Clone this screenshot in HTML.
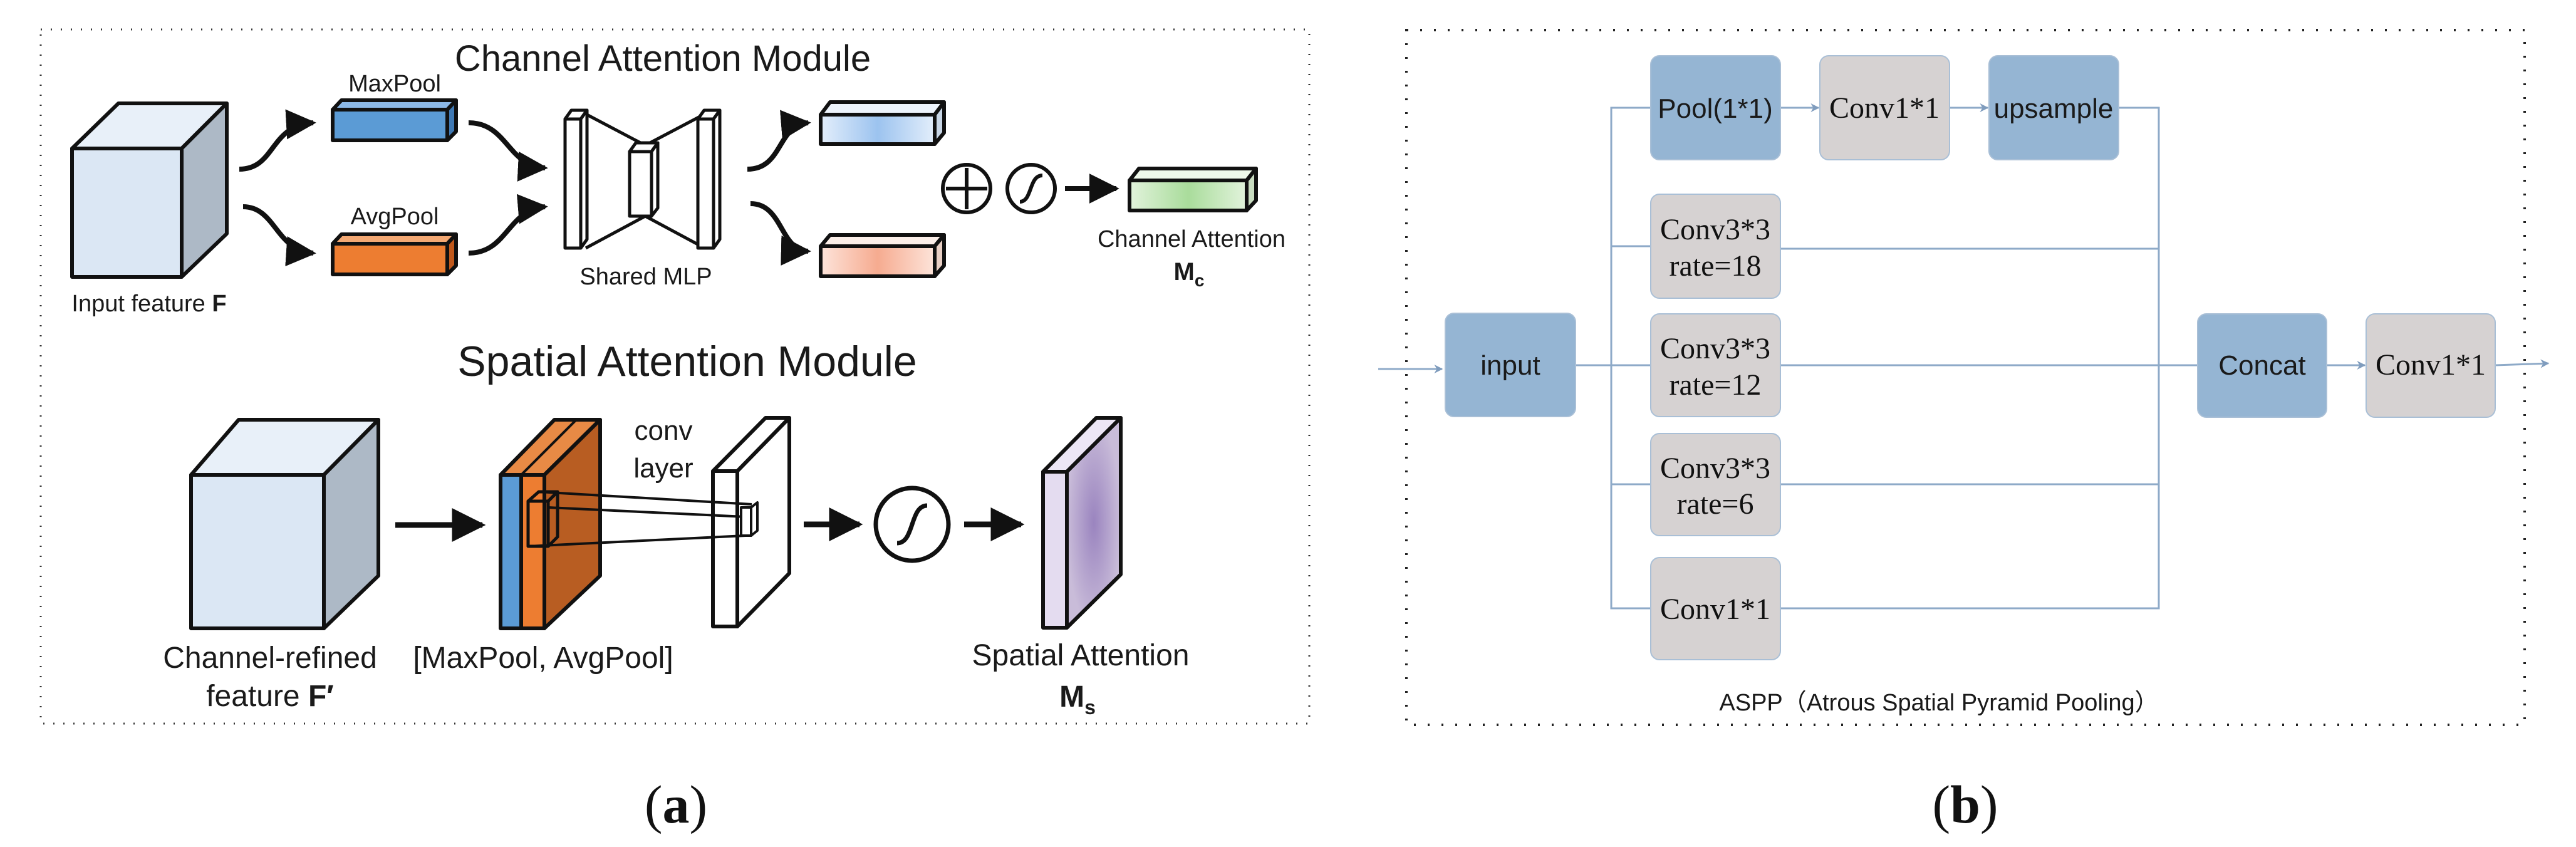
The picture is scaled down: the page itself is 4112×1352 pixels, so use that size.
<!DOCTYPE html>
<html><head><meta charset="utf-8"><style>
html,body{margin:0;padding:0;background:#fff;}
svg{display:block;}
.s{font-family:"Liberation Sans","DejaVu Sans",sans-serif;fill:#1a1a1a;}
.r{font-family:"Liberation Serif",serif;fill:#111;}
</style></head><body>
<svg width="4112" height="1352" viewBox="0 0 4112 1352" xmlns="http://www.w3.org/2000/svg">
<defs>
<marker id="ah" viewBox="0 0 10 10" refX="9" refY="5" markerWidth="6" markerHeight="6" orient="auto"><path d="M0,0 L10,5 L0,10 z" fill="#111"/></marker>
<marker id="bh" viewBox="0 0 10 10" refX="9" refY="5" markerWidth="14" markerHeight="14" markerUnits="userSpaceOnUse" orient="auto"><path d="M0,0 L10,5 L0,10 L3,5 z" fill="#7f9cbd"/></marker>
<linearGradient id="gb" x1="0" x2="1"><stop offset="0" stop-color="#e3eefb"/><stop offset=".5" stop-color="#9cc3ef"/><stop offset="1" stop-color="#e3eefb"/></linearGradient>
<linearGradient id="go" x1="0" x2="1"><stop offset="0" stop-color="#fde4da"/><stop offset=".5" stop-color="#f6ab90"/><stop offset="1" stop-color="#fde4da"/></linearGradient>
<linearGradient id="gg" x1="0" x2="1"><stop offset="0" stop-color="#e2f3dc"/><stop offset=".5" stop-color="#a9dc9b"/><stop offset="1" stop-color="#e2f3dc"/></linearGradient>
<radialGradient id="gp"><stop offset="0" stop-color="#9a84bf"/><stop offset="1" stop-color="#c9bcd9"/></radialGradient>
</defs>

<!-- Panel a border -->
<rect x="65" y="47" width="2025" height="1108" fill="none" stroke="#333" stroke-width="3" stroke-dasharray="2,14"/>
<!-- Panel b border -->
<rect x="2245" y="48" width="1785" height="1109" fill="none" stroke="#222" stroke-width="4" stroke-dasharray="3,19"/>

<!-- ===== Panel a ===== -->
<g stroke="#111" stroke-width="6" stroke-linejoin="round">
<polygon points="115,237 189,165 362,165 290,237" fill="#e8f0f9"/>
<polygon points="290,237 362,165 362,373 290,442" fill="#adb9c6"/>
<rect x="115" y="237" width="175" height="205" fill="#dbe7f4"/>
<polygon points="531,175 545,160 728,160 714,175" fill="#8cb8e6"/>
<polygon points="714,175 728,160 728,210 714,224" fill="#3f79b4"/>
<rect x="531" y="175" width="183" height="49" fill="#5b9bd5"/>
<polygon points="531,389 545,374 728,374 714,389" fill="#f3a873"/>
<polygon points="714,389 728,374 728,424 714,438" fill="#c0581b"/>
<rect x="531" y="389" width="183" height="49" fill="#ed7d31"/>
<!-- result bars -->
<polygon points="1310,183 1325,163 1507,163 1492,183" fill="#edf3fb"/>
<polygon points="1492,183 1507,163 1507,212 1492,230" fill="#c8d6e6"/>
<rect x="1310" y="183" width="182" height="47" fill="url(#gb)"/>
<polygon points="1310,393 1325,375 1507,375 1492,393" fill="#fbeee8"/>
<polygon points="1492,393 1507,375 1507,424 1492,441" fill="#e8cfc4"/>
<rect x="1310" y="393" width="182" height="48" fill="url(#go)"/>
<polygon points="1803,288 1818,269 2005,269 1990,288" fill="#eef8ea"/>
<polygon points="1990,288 2005,269 2005,320 1990,336" fill="#c8dcc0"/>
<rect x="1803" y="288" width="187" height="48" fill="url(#gg)"/>
</g>
<!-- shared MLP -->
<g stroke="#111" stroke-width="5" fill="#fff" stroke-linejoin="round">
<line x1="935" y1="182" x2="1030" y2="232"/><line x1="935" y1="396" x2="1030" y2="345"/>
<line x1="1125" y1="182" x2="1030" y2="232"/><line x1="1125" y1="396" x2="1030" y2="345"/>
<polygon points="902,190 912,176 937,176 927,190"/><polygon points="927,190 937,176 937,382 927,396"/><rect x="902" y="190" width="25" height="206"/>
<polygon points="1005,242 1015,228 1050,228 1040,242"/><polygon points="1040,242 1050,228 1050,332 1040,345"/><rect x="1005" y="242" width="35" height="103"/>
<polygon points="1114,190 1124,176 1149,176 1139,190"/><polygon points="1139,190 1149,176 1149,382 1139,396"/><rect x="1114" y="190" width="25" height="206"/>
</g>
<!-- curved arrows top -->
<g stroke="#111" stroke-width="8" fill="none" marker-end="url(#ah)">
<path d="M382,270 C440,270 430,200 500,196"/>
<path d="M388,330 C440,330 440,400 500,404"/>
<path d="M748,196 C810,196 810,265 870,268"/>
<path d="M748,404 C810,404 810,335 870,330"/>
<path d="M1193,270 C1250,270 1240,200 1290,196"/>
<path d="M1198,325 C1250,325 1245,400 1290,401"/>
<path d="M1700,301 L1782,301"/>
</g>
<circle cx="1543" cy="301" r="38" fill="#fff" stroke="#111" stroke-width="6"/>
<path d="M1543,268 V334 M1510,301 H1576" stroke="#111" stroke-width="6"/>
<circle cx="1646" cy="301" r="38" fill="#fff" stroke="#111" stroke-width="6"/>
<path d="M1628,322 C1648,322 1642,280 1664,280" stroke="#111" stroke-width="6" fill="none"/>
<!-- text top -->
<text class="s" x="1058" y="113" font-size="58" text-anchor="middle">Channel Attention Module</text>
<text class="s" x="630" y="146" font-size="38" text-anchor="middle">MaxPool</text>
<text class="s" x="630" y="358" font-size="38" text-anchor="middle">AvgPool</text>
<text class="s" x="1031" y="454" font-size="38" text-anchor="middle">Shared MLP</text>
<text class="s" x="238" y="497" font-size="38" text-anchor="middle">Input feature <tspan font-weight="bold">F</tspan></text>
<text class="s" x="1902" y="394" font-size="38" text-anchor="middle">Channel Attention</text>
<text class="s" x="1898" y="447" font-size="40" font-weight="bold" text-anchor="middle">M<tspan font-size="28" dy="10">c</tspan></text>
<text class="s" x="1097" y="600" font-size="68" text-anchor="middle">Spatial Attention Module</text>

<!-- bottom -->
<g stroke="#111" stroke-width="6" stroke-linejoin="round">
<polygon points="305,758 381,670 604,670 517,758" fill="#e8f0f9"/>
<polygon points="517,758 604,670 604,919 517,1003" fill="#adb9c6"/>
<rect x="305" y="758" width="212" height="245" fill="#dbe7f4"/>
<polygon points="799,758 885,670 958,670 869,758" fill="#e88a45"/>
<polygon points="869,758 958,670 958,919 869,1003" fill="#b85d22"/>
<rect x="799" y="758" width="33" height="245" fill="#5b9bd5"/>
<rect x="832" y="758" width="37" height="245" fill="#ed7d31"/>
<line x1="832" y1="758" x2="920" y2="670" stroke-width="4"/>
<polygon points="843,800 860,785 890,785 875,800" fill="none" stroke-width="5"/>
<rect x="843" y="800" width="32" height="72" fill="none" stroke-width="5"/>
<polygon points="875,800 890,785 890,857 875,872" fill="none" stroke-width="5"/>
<polygon points="1138,752 1222,667 1260,667 1177,752" fill="#fff"/>
<polygon points="1177,752 1260,667 1260,915 1177,1000" fill="#fff"/>
<rect x="1138" y="752" width="39" height="248" fill="#fff"/>
<line x1="860" y1="785" x2="1200" y2="805" stroke-width="4"/>
<line x1="875" y1="810" x2="1190" y2="825" stroke-width="4"/>
<line x1="843" y1="872" x2="1190" y2="855" stroke-width="4"/>
<rect x="1183" y="810" width="16" height="45" fill="#fff" stroke-width="4"/>
<polygon points="1199,810 1209,802 1209,847 1199,855" fill="#fff" stroke-width="4"/>
<polygon points="1665,753 1750,667 1789,667 1703,753" fill="#ece6f5"/>
<polygon points="1703,753 1789,667 1789,917 1703,1002" fill="url(#gp)"/>
<rect x="1665" y="753" width="38" height="249" fill="#e4dcf0"/>
</g>
<g stroke="#111" stroke-width="9" fill="none" marker-end="url(#ah)">
<line x1="631" y1="838" x2="770" y2="838"/>
<line x1="1283" y1="837" x2="1372" y2="837"/>
<line x1="1539" y1="837" x2="1630" y2="837"/>
</g>
<circle cx="1456" cy="837" r="58" fill="#fff" stroke="#111" stroke-width="7"/>
<path d="M1432,867 C1460,867 1452,807 1480,807" stroke="#111" stroke-width="7" fill="none"/>
<text class="s" x="1059" y="702" font-size="44" text-anchor="middle">conv</text>
<text class="s" x="1059" y="762" font-size="44" text-anchor="middle">layer</text>
<text class="s" x="431" y="1066" font-size="48" text-anchor="middle">Channel-refined</text>
<text class="s" x="431" y="1127" font-size="48" text-anchor="middle">feature <tspan font-weight="bold">F′</tspan></text>
<text class="s" x="867" y="1066" font-size="48" text-anchor="middle">[MaxPool, AvgPool]</text>
<text class="s" x="1725" y="1062" font-size="48" text-anchor="middle">Spatial Attention</text>
<text class="s" x="1720" y="1128" font-size="48" font-weight="bold" text-anchor="middle">M<tspan font-size="32" dy="12">s</tspan></text>

<text class="r" x="1079" y="1313" font-size="86" text-anchor="middle">(<tspan font-weight="bold">a</tspan>)</text>

<!-- ===== Panel b ===== -->
<g stroke="#8eaac8" stroke-width="3" fill="none">
<line x1="2200" y1="589" x2="2302" y2="589" marker-end="url(#bh)"/>
<line x1="2515" y1="583" x2="3508" y2="583"/>
<polyline points="2635,172 2572,172 2572,971 2635,971"/>
<line x1="2572" y1="393" x2="2635" y2="393"/>
<line x1="2572" y1="773" x2="2635" y2="773"/>
<line x1="2842" y1="172" x2="2903" y2="172" marker-end="url(#bh)"/>
<line x1="3112" y1="172" x2="3173" y2="172" marker-end="url(#bh)"/>
<polyline points="3382,172 3446,172 3446,971 2842,971"/>
<line x1="2842" y1="397" x2="3446" y2="397"/>
<line x1="2842" y1="773" x2="3446" y2="773"/>
<line x1="3714" y1="583" x2="3775" y2="583" marker-end="url(#bh)"/>
<line x1="3983" y1="583" x2="4068" y2="580" marker-end="url(#bh)"/>
</g>
<g stroke="#a9bfd6" stroke-width="2">
<rect x="2307" y="500" width="208" height="165" rx="14" fill="#95b5d3"/>
<rect x="2635" y="89" width="207" height="166" rx="14" fill="#95b5d3"/>
<rect x="2905" y="89" width="207" height="166" rx="14" fill="#d6d2d2"/>
<rect x="3175" y="89" width="207" height="166" rx="14" fill="#95b5d3"/>
<rect x="2635" y="310" width="207" height="166" rx="14" fill="#d6d2d2"/>
<rect x="2635" y="501" width="207" height="164" rx="14" fill="#d6d2d2"/>
<rect x="2635" y="692" width="207" height="163" rx="14" fill="#d6d2d2"/>
<rect x="2635" y="890" width="207" height="163" rx="14" fill="#d6d2d2"/>
<rect x="3508" y="501" width="206" height="165" rx="14" fill="#95b5d3"/>
<rect x="3777" y="501" width="206" height="165" rx="14" fill="#d6d2d2"/>
</g>
<g font-size="44" text-anchor="middle">
<text class="s" x="2411" y="598">input</text>
<text class="s" x="2738" y="188">Pool(1*1)</text>
<text class="r" x="3008" y="188" font-size="48">Conv1*1</text>
<text class="s" x="3278" y="188">upsample</text>
<text class="r" x="2738" y="382" font-size="48">Conv3*3</text>
<text class="r" x="2738" y="440" font-size="48">rate=18</text>
<text class="r" x="2738" y="572" font-size="48">Conv3*3</text>
<text class="r" x="2738" y="630" font-size="48">rate=12</text>
<text class="r" x="2738" y="763" font-size="48">Conv3*3</text>
<text class="r" x="2738" y="820" font-size="48">rate=6</text>
<text class="r" x="2738" y="988" font-size="48">Conv1*1</text>
<text class="s" x="3611" y="598">Concat</text>
<text class="r" x="3880" y="598" font-size="48">Conv1*1</text>
</g>
<text class="s" x="3095" y="1134" font-size="38" text-anchor="middle" style="font-family:'Liberation Sans','Noto Sans CJK SC',sans-serif">ASPP（Atrous Spatial Pyramid Pooling）</text>
<text class="r" x="3137" y="1313" font-size="86" text-anchor="middle">(<tspan font-weight="bold">b</tspan>)</text>
</svg>
</body></html>
